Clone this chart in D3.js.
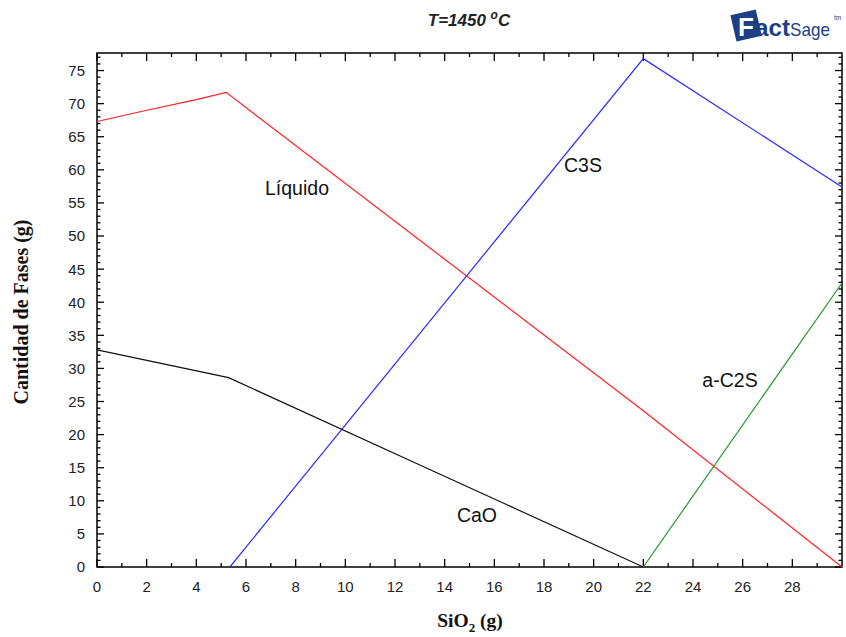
<!DOCTYPE html>
<html>
<head>
<meta charset="utf-8">
<script src="https://cdn.jsdelivr.net/npm/d3@7"></script>
<style>
  html, body { margin: 0; padding: 0; background: #fff; }
  svg { display: block; }
</style>
</head>
<body>
<svg id="chart" width="846" height="637"></svg>
<script>
// Phase amounts (g) vs SiO2 added (g) at 1450 °C
const liquidoX = [0, 2, 4, 5.2, 22, 30];
const liquidoY = [67.3, 69.0, 70.6, 71.7, 23.6, 0];
const c3sX = [5.35, 22, 30];
const c3sY = [0, 76.8, 57.4];
const caoX = [0, 5.3, 13, 22];
const caoY = [32.8, 28.6, 15.4, 0];
const c2sX = [22, 30];
const c2sY = [0, 42.9];

const xTicks = [0, 2, 4, 6, 8, 10, 12, 14, 16, 18, 20, 22, 24, 26, 28];
const yTicks = [0, 5, 10, 15, 20, 25, 30, 35, 40, 45, 50, 55, 60, 65, 70, 75];

const series = [
  { name: "Líquido", xs: liquidoX, ys: liquidoY, color: "#ff2020", lx: 297, ly: 195 },
  { name: "C3S", xs: c3sX, ys: c3sY, color: "#2a2aff", lx: 583, ly: 172 },
  { name: "CaO", xs: caoX, ys: caoY, color: "#111111", lx: 477, ly: 522 },
  { name: "a-C2S", xs: c2sX, ys: c2sY, color: "#22992a", lx: 730, ly: 387 }
];

const svg = d3.select("#chart");
const pLeft = 97, pRight = 842, pTop = 53, pBottom = 567;
const x = d3.scaleLinear().domain([0, 30]).range([pLeft, pRight]);
const y = d3.scaleLinear().domain([0, 77.65]).range([pBottom, pTop]);

// frame
svg.append("rect")
  .attr("x", pLeft).attr("y", pTop)
  .attr("width", pRight - pLeft).attr("height", pBottom - pTop)
  .attr("fill", "none").attr("stroke", "#000").attr("stroke-width", 1.5);

const minorX = d3.range(0, 30, 1);
const minorY = d3.range(0, 78, 1);
const tickG = svg.append("g").attr("stroke", "#000").attr("stroke-width", 1.3);

// x ticks, pointing inward on bottom and top edges
minorX.forEach(v => {
  const len = v % 2 === 0 ? 8 : 4;
  const px = x(v);
  tickG.append("line").attr("x1", px).attr("x2", px).attr("y1", pBottom).attr("y2", pBottom - len);
  tickG.append("line").attr("x1", px).attr("x2", px).attr("y1", pTop).attr("y2", pTop + len);
});
// y ticks, pointing inward on left and right edges
minorY.forEach(v => {
  const len = v % 5 === 0 ? 7 : 3.5;
  const py = y(v);
  tickG.append("line").attr("x1", pLeft).attr("x2", pLeft + len).attr("y1", py).attr("y2", py);
  tickG.append("line").attr("x1", pRight).attr("x2", pRight - len).attr("y1", py).attr("y2", py);
});

// tick labels
svg.append("g").selectAll("text").data(xTicks).join("text")
  .attr("x", d => x(d)).attr("y", pBottom + 25)
  .attr("text-anchor", "middle")
  .attr("font-family", "Arial, 'Liberation Sans', sans-serif")
  .attr("font-size", 15).attr("fill", "#222")
  .text(d => d);

svg.append("g").selectAll("text").data(yTicks).join("text")
  .attr("x", pLeft - 12).attr("y", d => y(d) + 5.4)
  .attr("text-anchor", "end")
  .attr("font-family", "Arial, 'Liberation Sans', sans-serif")
  .attr("font-size", 15).attr("fill", "#222")
  .text(d => d);

// phase curves
const line = d3.line().x(d => x(d[0])).y(d => y(d[1]));
const plot = svg.append("g");
series.forEach(s => {
  const pts = s.xs.map((v, i) => [v, s.ys[i]]);
  plot.append("path").datum(pts)
    .attr("d", line)
    .attr("fill", "none")
    .attr("stroke", s.color)
    .attr("stroke-width", 1.2);
  plot.append("text")
    .attr("x", s.lx).attr("y", s.ly)
    .attr("text-anchor", "middle")
    .attr("font-family", "Arial, 'Liberation Sans', sans-serif")
    .attr("font-size", 19.5).attr("fill", "#111")
    .text(s.name);
});

// title
const title = svg.append("text")
  .attr("x", 469).attr("y", 26)
  .attr("text-anchor", "middle")
  .attr("font-family", "Arial, 'Liberation Sans', sans-serif")
  .attr("font-size", 17).attr("font-weight", "bold").attr("font-style", "italic")
  .attr("fill", "#222");
title.append("tspan").text("T=1450 ");
title.append("tspan").attr("dy", -7).attr("font-size", 12).text("o");
title.append("tspan").attr("dy", 7).text("C");

// axis titles
const xl = svg.append("text")
  .attr("x", 470).attr("y", 627)
  .attr("text-anchor", "middle")
  .attr("font-family", "'Liberation Serif', 'Times New Roman', serif")
  .attr("font-size", 19.5).attr("font-weight", "bold").attr("fill", "#111");
xl.append("tspan").text("SiO");
xl.append("tspan").attr("dy", 5).attr("font-size", 13).text("2");
xl.append("tspan").attr("dy", -5).text(" (g)");

svg.append("text")
  .attr("transform", "translate(28,312) rotate(-90)")
  .attr("text-anchor", "middle")
  .attr("font-family", "'Liberation Serif', 'Times New Roman', serif")
  .attr("font-size", 20).attr("font-weight", "bold").attr("fill", "#111")
  .text("Cantidad de Fases (g)");

// FactSage logo
const navy = "#1d3f86";
const logo = svg.append("g");
logo.append("rect")
  .attr("x", 733).attr("y", 12).attr("width", 26).attr("height", 27)
  .attr("fill", navy)
  .attr("transform", "rotate(-13,746,25)");
logo.append("text")
  .attr("x", 738).attr("y", 36)
  .attr("font-family", "Arial, 'Liberation Sans', sans-serif")
  .attr("font-size", 26).attr("font-weight", "bold").attr("fill", "#fff")
  .text("F");
logo.append("text")
  .attr("x", 755).attr("y", 36)
  .attr("font-family", "Arial, 'Liberation Sans', sans-serif")
  .attr("font-size", 23).attr("font-weight", "bold").attr("fill", navy)
  .attr("textLength", 35).attr("lengthAdjust", "spacingAndGlyphs")
  .text("act");
logo.append("text")
  .attr("x", 790).attr("y", 36)
  .attr("font-family", "Arial, 'Liberation Sans', sans-serif")
  .attr("font-size", 19).attr("fill", navy)
  .attr("textLength", 40).attr("lengthAdjust", "spacingAndGlyphs")
  .text("Sage");
logo.append("text")
  .attr("x", 834).attr("y", 20)
  .attr("font-family", "Arial, sans-serif")
  .attr("font-size", 6.5).attr("fill", navy)
  .text("tm");
</script>
</body>
</html>
